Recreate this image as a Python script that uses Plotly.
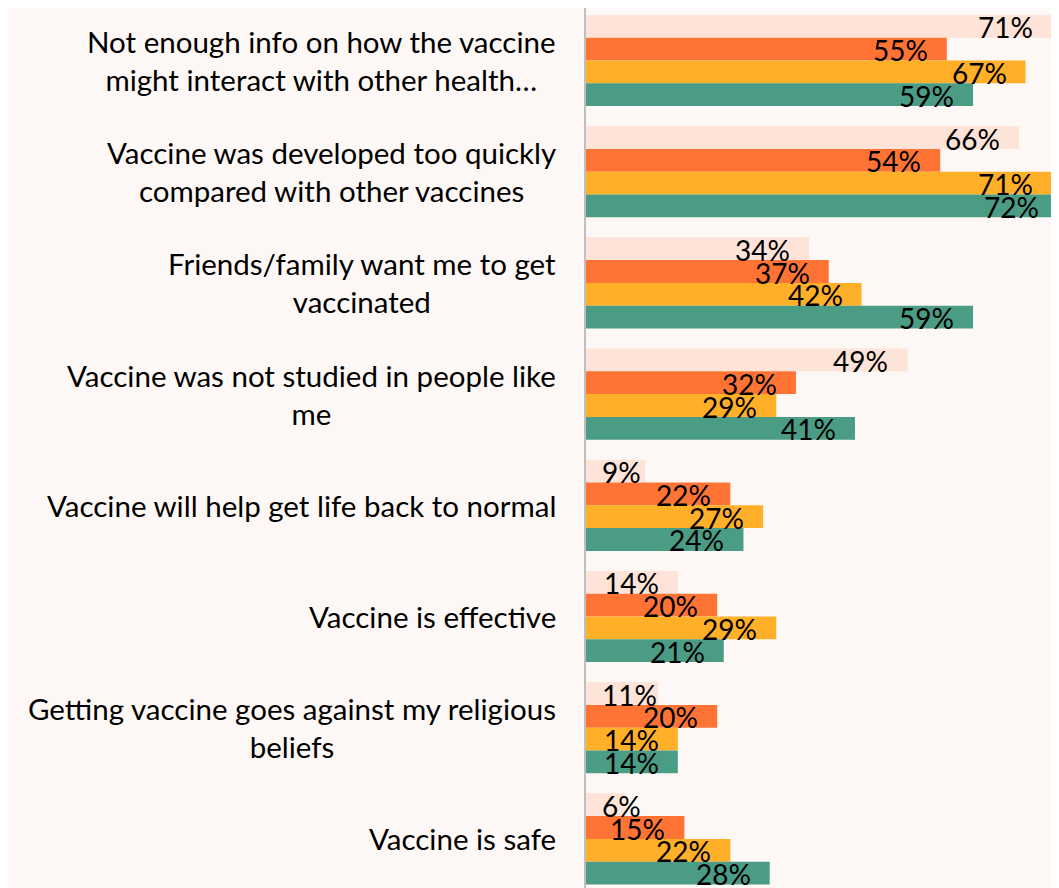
import plotly.graph_objects as go

categories = [
    "Not enough info on how the vaccine<br>might interact with other health…",
    "Vaccine was developed too quickly<br>compared with other vaccines",
    "Friends/family want me to get<br>vaccinated",
    "Vaccine was not studied in people like<br>me",
    "Vaccine will help get life back to normal",
    "Vaccine is effective",
    "Getting vaccine goes against my religious<br>beliefs",
    "Vaccine is safe",
]
series_a = [71, 66, 34, 49, 9, 14, 11, 6]
series_b = [55, 54, 37, 32, 22, 20, 20, 15]
series_c = [67, 71, 42, 29, 27, 29, 14, 22]
series_d = [59, 72, 59, 41, 24, 21, 14, 28]
series = [series_a, series_b, series_c, series_d]
colors = ["#FDE3D8", "#FF7435", "#FFAF28", "#4A9C85"]

PAGE_OFF = 8  # default body margin of the html page
W, H = 1059 - PAGE_OFF, 888 - PAGE_OFF
ML, MT = 586 - PAGE_OFF, 0
XMAX = 72.1
PX = (W - ML) / XMAX
FONT = "Lato"
FS = 28
FS_CAT = 29.5
BG = "#FDF8F5"

ypos = list(range(len(categories)))
fig = go.Figure()
for vals, col in zip(series, colors):
    fig.add_trace(go.Bar(
        x=vals, y=ypos, orientation="h", marker=dict(color=col, line=dict(width=0)),
        hoverinfo="skip", showlegend=False,
    ))

annotations = []
n = len(series)
pitch_units = 0.82 / n
for si, vals in enumerate(series):
    for ci, v in enumerate(vals):
        yoff = ci + (si - (n - 1) / 2) * pitch_units
        txt = f"{v}%"
        est_w = FS * (0.52 * (len(txt) - 1) + 0.72)
        if v * PX - 18 - est_w >= 16:
            annotations.append(dict(x=v, y=yoff, xref="x", yref="y", text=txt, showarrow=False,
                                    xanchor="right", yanchor="middle", xshift=-17, yshift=-1,
                                    font=dict(family=FONT, size=FS, color="#000000")))
        else:
            annotations.append(dict(x=0, y=yoff, xref="x", yref="y", text=txt, showarrow=False,
                                    xanchor="left", yanchor="middle", xshift=14, yshift=-1,
                                    font=dict(family=FONT, size=FS, color="#000000")))

for ci, cat in enumerate(categories):
    annotations.append(dict(x=0, y=ci, xref="paper", yref="y", text=cat, showarrow=False,
                            xanchor="right", yanchor="middle", align="center", xshift=-28,
                            font=dict(family=FONT, size=FS_CAT, color="#000000")))

pitch_px = 111.2
r0 = -(60.5 - PAGE_OFF - MT) / pitch_px
r1 = r0 + (H - MT) / pitch_px

fig.update_layout(
    width=W, height=H,
    margin=dict(l=ML, r=0, t=MT, b=0, pad=0),
    paper_bgcolor=BG, plot_bgcolor=BG,
    barmode="group", bargap=0.18, bargroupgap=0,
    annotations=annotations,
    xaxis=dict(range=[0, XMAX], visible=False, fixedrange=True),
    yaxis=dict(range=[r1, r0], showticklabels=False, showgrid=False, zeroline=False,
               showline=True, linecolor="#BFBFBF", linewidth=2, ticks="", fixedrange=True),
)

fig.write_html("out.html")
